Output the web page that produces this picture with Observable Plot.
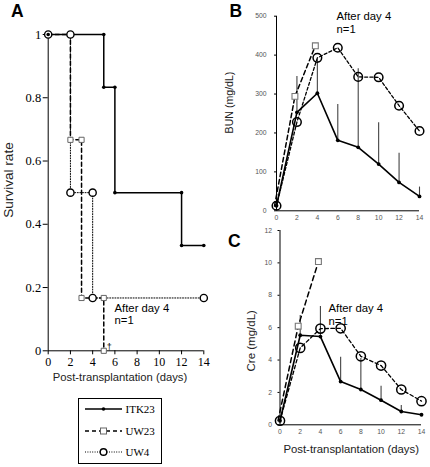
<!DOCTYPE html>
<html>
<head>
<meta charset="utf-8">
<script src="https://cdn.jsdelivr.net/npm/d3@7"></script>
<script src="https://cdn.jsdelivr.net/npm/@observablehq/plot@0.6"></script>
<style>
  html, body { margin: 0; padding: 0; background: white; }
  #chart { position: relative; width: 430px; height: 467px; overflow: hidden; background: white; }
</style>
</head>
<body>
<div id="chart"></div>
<script>
// ---------- Data ----------
// Panel A: survival curves (corner points of each step curve)
const survDaysITK23 = [0, 5, 5, 6, 6, 12, 12, 14];
const survRateITK23 = [1, 1, 0.833, 0.833, 0.5, 0.5, 0.333, 0.333];
const survDaysUW23  = [0, 2, 2, 3, 3, 5, 5];
const survRateUW23  = [1, 1, 0.667, 0.667, 0.167, 0.167, 0];
const survDaysUW4   = [0, 2, 2, 4, 4, 14];
const survRateUW4   = [1, 1, 0.5, 0.5, 0.167, 0.167];
const survTicks = [0, 0.2, 0.4, 0.6, 0.8, 1];

// Panels B and C: lab values by day
const labDays  = [0, 2, 4, 6, 8, 10, 12, 14];
const uw23Days = [0, 2, 4];
const dayTicks = [0, 2, 4, 6, 8, 10, 12, 14];

const bunITK23    = [13, 253, 302, 181, 163, 120, 73, 37];
const bunErrITK23 = [null, 345, 388, 273, 365, 226, 148, 61];
const bunUW23     = [12, 294, 424];
const bunUW4      = [13, 228, 393, 419, 344, 343, 270, 205];
const bunTicks    = [0, 100, 200, 300, 400, 500];

const creITK23    = [0.25, 5.53, 5.45, 2.67, 2.18, 1.52, 0.82, 0.62];
const creErrITK23 = [null, 6.75, 7.3, 4.17, 4.1, 2.38, 1.19, null];
const creUW23     = [0.25, 6.09, 10.08];
const creUW4      = [0.25, 4.75, 5.94, 5.96, 4.23, 3.66, 2.18, 1.46];
const creTicks    = [0, 2, 4, 6, 8, 10, 12];

const seriesNames = ["ITK23", "UW23", "UW4"];
const noteText = "After day 4\nn=1";

// ---------- Helpers ----------
const rows = (xs, ys, es) => xs.map((x, i) => ({x, y: ys[i], err: es ? es[i] : null}));
const W = 430, H = 467;
const SANS = "Liberation Sans, Arial, sans-serif";
const SERIF = "Liberation Serif, Times New Roman, serif";
const baseStyle = {position: "absolute", left: "0px", top: "0px", background: "transparent", overflow: "visible"};
const chart = document.getElementById("chart");

// ---------- Panel A ----------
const aITK = rows(survDaysITK23, survRateITK23);
const aUW23 = rows(survDaysUW23, survRateUW23);
const aUW4 = rows(survDaysUW4, survRateUW4);
const plotA = Plot.plot({
  width: W, height: H,
  marginLeft: 47.7, marginRight: W - 203.3, marginTop: 34, marginBottom: H - 350.3,
  style: {...baseStyle, fontFamily: SERIF, color: "black"},
  x: {domain: [0, 14]},
  y: {domain: [0, 1]},
  marks: [
    Plot.ruleX([0], {y1: 0, y2: 1, stroke: "black", strokeWidth: 1}),
    Plot.ruleY([0], {x1: 0, x2: 14, stroke: "black", strokeWidth: 1}),
    Plot.axisX({ticks: dayTicks, tickSize: 4, tickPadding: 3, label: null, fontSize: 12, fontFamily: SERIF}),
    Plot.axisY({ticks: survTicks, tickSize: 5, tickPadding: 2, tickFormat: d => String(d), label: null, fontSize: 12.5, fontFamily: SERIF}),
    Plot.line(aUW4, {x: "x", y: "y", stroke: "black", strokeWidth: 1, strokeDasharray: "1,1.6"}),
    Plot.line(aUW23, {x: "x", y: "y", stroke: "black", strokeWidth: 1.5, strokeDasharray: "4,3"}),
    Plot.line(aITK, {x: "x", y: "y", stroke: "black", strokeWidth: 1.5}),
    Plot.dot(aUW23.filter(d => d.y < 1), {x: "x", y: "y", symbol: "square", r: 2.9, stroke: "#666", strokeWidth: 1, fill: "white"}),
    Plot.dot(aUW4, {x: "x", y: "y", r: 3.6, stroke: "black", strokeWidth: 1.4, fill: "white"}),
    Plot.dot(aITK, {x: "x", y: "y", r: 1.8, fill: "black", stroke: null}),
    Plot.text([{x: 5, y: 0, t: "†"}], {x: "x", y: "y", text: "t", dx: 3, dy: -1, textAnchor: "start", lineAnchor: "bottom", fontSize: 9, fontFamily: SANS}),
    Plot.text([{x: 5.97, y: 0.1505, t: noteText}], {x: "x", y: "y", text: "t", textAnchor: "start", lineAnchor: "top", lineHeight: 1.1, fontSize: 11.3, fontFamily: SANS})
  ]
});
chart.appendChild(plotA);

// ---------- Panel B ----------
const bITK = rows(labDays, bunITK23, bunErrITK23);
const bUW23 = rows(uw23Days, bunUW23);
const bUW4 = rows(labDays, bunUW4);
const plotB = Plot.plot({
  width: W, height: H,
  marginLeft: 276, marginRight: W - 419, marginTop: 15.7, marginBottom: H - 210.3,
  style: {...baseStyle, fontFamily: SANS, color: "black"},
  x: {domain: [0, 14]},
  y: {domain: [0, 500]},
  marks: [
    Plot.ruleX([0], {y1: 0, y2: 500, stroke: "black", strokeWidth: 1}),
    Plot.ruleY([0], {x1: 0, x2: 14, stroke: "black", strokeWidth: 1}),
    Plot.axisX({ticks: dayTicks, tickSize: 0, tickPadding: 4.5, label: null, fontSize: 6.8, fill: "#555"}),
    Plot.axisY({ticks: bunTicks, tickSize: 2, tickPadding: 8, label: null, fontSize: 6.8, fill: "#555"}),
    Plot.ruleX(bITK.filter(d => d.err != null), {x: "x", y1: "y", y2: "err", stroke: "#444", strokeWidth: 1.1}),
    Plot.line(bUW4, {x: "x", y: "y", stroke: "black", strokeWidth: 1.3, strokeDasharray: "3,2.2"}),
    Plot.line(bUW23, {x: "x", y: "y", dx: -2, stroke: "black", strokeWidth: 1.5, strokeDasharray: "4.5,3"}),
    Plot.line(bITK, {x: "x", y: "y", stroke: "black", strokeWidth: 1.6}),
    Plot.dot(bUW23.filter(d => d.x > 0), {x: "x", y: "y", dx: -2, symbol: "square", r: 3.3, stroke: "#777", strokeWidth: 1.1, fill: "white"}),
    Plot.dot(bUW4, {x: "x", y: "y", r: 4.3, stroke: "black", strokeWidth: 1.5, fill: "none"}),
    Plot.dot(bITK, {x: "x", y: "y", r: 1.9, fill: "black", stroke: null}),
    Plot.text([{x: 5.88, y: 515, t: noteText}], {x: "x", y: "y", text: "t", textAnchor: "start", lineAnchor: "top", lineHeight: 1.17, fontSize: 11.3, fontFamily: SANS})
  ]
});
chart.appendChild(plotB);

// ---------- Panel C ----------
const cITK = rows(labDays, creITK23, creErrITK23);
const cUW23 = rows(uw23Days, creUW23);
const cUW4 = rows(labDays, creUW4);
const plotC = Plot.plot({
  width: W, height: H,
  marginLeft: 279.5, marginRight: W - 421, marginTop: 230, marginBottom: H - 424.3,
  style: {...baseStyle, fontFamily: SANS, color: "black"},
  x: {domain: [0, 14]},
  y: {domain: [0, 12]},
  marks: [
    Plot.ruleX([0], {y1: 0, y2: 12, stroke: "black", strokeWidth: 1}),
    Plot.ruleY([0], {x1: 0, x2: 14, stroke: "black", strokeWidth: 1}),
    Plot.axisX({ticks: dayTicks, tickSize: 0, tickPadding: 4, label: null, fontSize: 6.8, fill: "#555"}),
    Plot.axisY({ticks: creTicks, tickSize: 2, tickPadding: 6, label: null, fontSize: 6.8, fill: "#555"}),
    Plot.ruleX(cITK.filter(d => d.err != null), {x: "x", y1: "y", y2: "err", stroke: "#444", strokeWidth: 1.1}),
    Plot.line(cUW4, {x: "x", y: "y", stroke: "black", strokeWidth: 1.3, strokeDasharray: "3.5,2.5"}),
    Plot.line(cUW23, {x: "x", y: "y", dx: -2, stroke: "black", strokeWidth: 1.5, strokeDasharray: "5,3.5"}),
    Plot.line(cITK, {x: "x", y: "y", stroke: "black", strokeWidth: 1.6}),
    Plot.dot(cUW23.filter(d => d.x > 0), {x: "x", y: "y", dx: -2, symbol: "square", r: 3.3, stroke: "#777", strokeWidth: 1.1, fill: "white"}),
    Plot.dot(cUW4, {x: "x", y: "y", r: 4.6, stroke: "black", strokeWidth: 1.5, fill: "none"}),
    Plot.dot(cITK, {x: "x", y: "y", r: 1.9, fill: "black", stroke: null}),
    Plot.text([{x: 4.8, y: 7.53, t: noteText}], {x: "x", y: "y", text: "t", textAnchor: "start", lineAnchor: "top", lineHeight: 1.12, fontSize: 11.3, fontFamily: SANS})
  ]
});
chart.appendChild(plotC);

// ---------- Panel letters, axis titles and legend ----------
const NS = "http://www.w3.org/2000/svg";
const overlay = document.createElementNS(NS, "svg");
overlay.setAttribute("width", W);
overlay.setAttribute("height", H);
overlay.style.position = "absolute";
overlay.style.left = "0px";
overlay.style.top = "0px";
function addText(str, attrs) {
  const t = document.createElementNS(NS, "text");
  for (const k in attrs) t.setAttribute(k, attrs[k]);
  t.textContent = str;
  overlay.appendChild(t);
  return t;
}
function addEl(tag, attrs) {
  const e = document.createElementNS(NS, tag);
  for (const k in attrs) e.setAttribute(k, attrs[k]);
  overlay.appendChild(e);
  return e;
}
const bold = {"font-family": SANS, "font-weight": "bold", "font-size": 17.5, fill: "black"};
addText("A", {...bold, x: 11, y: 16.7});
addText("B", {...bold, x: 229.5, y: 16.7});
addText("C", {...bold, x: 228, y: 246.5});

addText("Post-transplantation (days)", {"font-family": SANS, "font-size": 11.25, x: 120, y: 381, "text-anchor": "middle", fill: "#222"});
addText("Post-transplantation (days)", {"font-family": SANS, "font-size": 11.35, x: 351.2, y: 453.3, "text-anchor": "middle", fill: "#222"});
addText("Survival rate", {"font-family": SANS, "font-size": 13.6, "text-anchor": "middle", fill: "#222", transform: "translate(12.5,180) rotate(-90)"});
addText("BUN (mg/dL)", {"font-family": SANS, "font-size": 10.6, "text-anchor": "middle", fill: "#222", transform: "translate(232.5,102.5) rotate(-90)"});
addText("Cre (mg/dL)", {"font-family": SANS, "font-size": 11.5, "text-anchor": "middle", fill: "#222", transform: "translate(254.5,340.8) rotate(-90)"});

// Legend
addEl("rect", {x: 78.5, y: 398.5, width: 83, height: 65, fill: "white", stroke: "black", "stroke-width": 1});
const legY = [409, 431, 452];
const legDash = [null, "4,3", "1,1.4"];
const legW = [1.5, 1.5, 1];
seriesNames.forEach((name, i) => {
  const y = legY[i];
  const line = addEl("line", {x1: 85, x2: 122, y1: y, y2: y, stroke: "black", "stroke-width": legW[i]});
  if (legDash[i]) line.setAttribute("stroke-dasharray", legDash[i]);
  if (i === 0) addEl("circle", {cx: 103.5, cy: y, r: 1.8, fill: "black"});
  if (i === 1) addEl("rect", {x: 100.5, y: y - 3, width: 6, height: 6, fill: "white", stroke: "#666", "stroke-width": 1});
  if (i === 2) addEl("circle", {cx: 103.5, cy: y, r: 3.3, fill: "white", stroke: "black", "stroke-width": 1.4});
  addText(name, {"font-family": SERIF, "font-size": 11, x: 125.5, y: y + 4, fill: "black"});
});
chart.appendChild(overlay);
</script>
</body>
</html>
